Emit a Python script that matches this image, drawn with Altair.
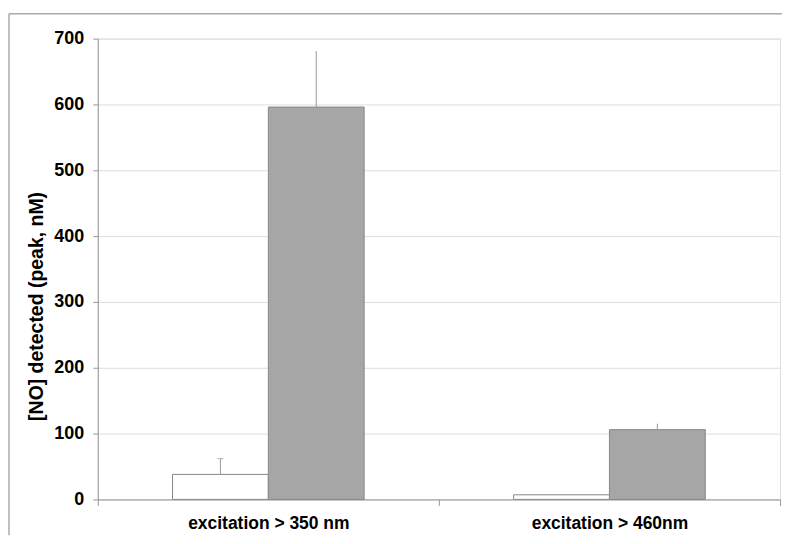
import altair as alt
import pandas as pd

categories = ["excitation > 350 nm", "excitation > 460nm"]
series = ["control", "treated"]
values_control = [38, 7]
errors_control = [24, 0]
values_treated = [596, 106]
errors_treated = [85, 9]
y_ticks = [0, 100, 200, 300, 400, 500, 600, 700]

rows = []
for i, c in enumerate(categories):
    rows.append({"cat": c, "series": series[0], "value": values_control[i],
                 "upper": values_control[i] + errors_control[i]})
    rows.append({"cat": c, "series": series[1], "value": values_treated[i],
                 "upper": values_treated[i] + errors_treated[i]})
df = pd.DataFrame(rows)

W, H = 684, 462
FONT = "Liberation Sans"

x_enc = alt.X("cat:N", sort=categories, title=None,
              scale=alt.Scale(paddingInner=0, paddingOuter=0),
              axis=alt.Axis(labelAngle=0, labelFont=FONT, labelFontSize=17.5,
                            labelFontWeight="bold", labelColor="black",
                            labelPadding=9, tickBand="extent", tickSize=6,
                            domainColor="#999999", tickColor="#999999",
                            grid=False))
xoff = alt.XOffset("series:N", sort=series,
                   scale=alt.Scale(paddingInner=0, paddingOuter=0.78))

bars = alt.Chart(df).mark_bar(stroke="#888888", strokeWidth=1).encode(
    x=x_enc,
    xOffset=xoff,
    y=alt.Y("value:Q", title="[NO] detected (peak, nM)",
            scale=alt.Scale(domain=[0, 700], nice=False),
            axis=alt.Axis(values=y_ticks, labelFont=FONT, labelFontSize=18,
                          labelFontWeight="bold", labelColor="black",
                          labelPadding=9, tickSize=5, tickColor="#999999",
                          domainColor="#999999", gridColor="#dddddd",
                          titleFont=FONT, titleFontSize=19.5, titleFontWeight="bold",
                          titleColor="black", titlePadding=7, titleY=268)),
    fill=alt.Fill("series:N", sort=series,
                  scale=alt.Scale(domain=series, range=["#ffffff", "#a6a6a6"]),
                  legend=None),
)

err = alt.Chart(df).transform_filter("datum.upper > datum.value").mark_rule(
    color="#999999", strokeWidth=1).encode(
    x=alt.X("cat:N", sort=categories),
    xOffset=xoff,
    y="value:Q",
    y2="upper:Q",
)

caps = alt.Chart(df).transform_filter(
    "datum.series == 'control' && datum.upper > datum.value").mark_tick(
    color="#999999", thickness=1, size=6, orient="horizontal").encode(
    x=alt.X("cat:N", sort=categories),
    xOffset=xoff,
    y="upper:Q",
)

one = pd.DataFrame({"a": [0]})
frame_top = alt.Chart(one).mark_rule(
    color="#aaaaaa", strokeWidth=1.5, clip=False).encode(
    x=alt.value(-89), x2=alt.value(W + 2), y=alt.value(-25))
frame_left = alt.Chart(one).mark_rule(
    color="#aaaaaa", strokeWidth=1.5, clip=False).encode(
    x=alt.value(-89), y=alt.value(-25), y2=alt.value(H + 36))

chart = alt.layer(frame_top, frame_left, bars, err, caps).properties(
    width=W, height=H,
    padding={"left": 0, "top": 4, "right": 0, "bottom": 0},
).configure_view(stroke="#999999", strokeWidth=1).configure(background="white")

chart.save("out.html", embed_options={"renderer": "svg", "actions": False})
